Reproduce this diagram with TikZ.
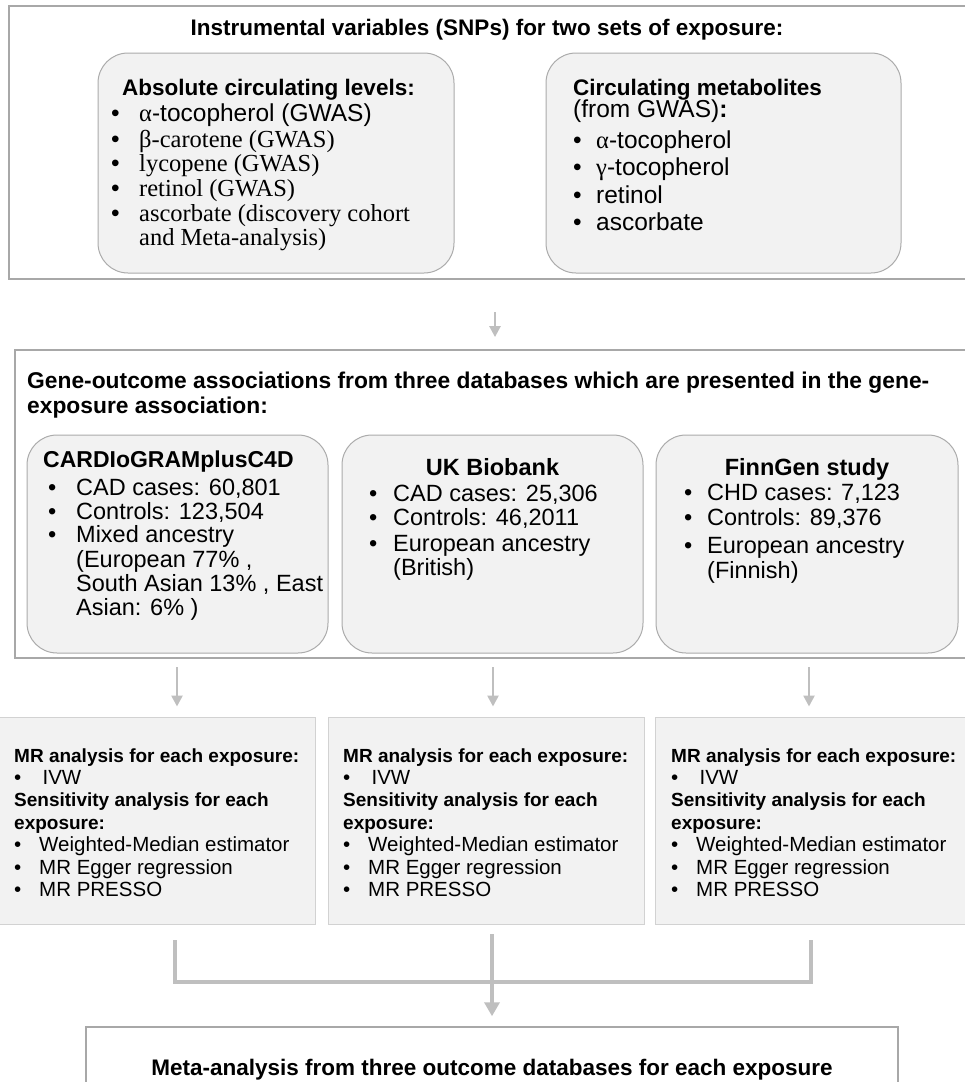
\documentclass[tikz,border=0pt]{standalone}
\usepackage{fontspec}
\setmainfont{Liberation Sans}
\newfontfamily\seriff{Liberation Serif}
\usetikzlibrary{arrows.meta,fit}
\definecolor{boxfill}{HTML}{F2F2F2}
\definecolor{boxline}{HTML}{ABABAB}
\definecolor{outerline}{HTML}{A8A8A8}
\definecolor{arrowc}{HTML}{BFBFBF}
\definecolor{mrline}{HTML}{D2D2D2}
\newcommand\bl[2]{\makebox[#1][l]{\textbullet}#2}
\begin{document}
\begin{tikzpicture}[x=1pt,y=-1pt,
  outer/.style={draw=outerline,line width=1.8pt,inner sep=0pt},
  rbox/.style={draw=boxline,fill=boxfill,line width=1pt,rounded corners=30pt,inner sep=0pt},
  mrbox/.style={draw=mrline,fill=boxfill,line width=1pt,inner sep=0pt},
  txt/.style={inner sep=0pt,anchor=base west,text=black},
  hdT/.style={txt,font=\fontsize{22.5}{27}\selectfont\bfseries},
  bodyT/.style={txt,font=\fontsize{24.5}{28}\selectfont},
  hdG/.style={txt,font=\fontsize{22.8}{27}\selectfont\bfseries},
  hdD/.style={txt,font=\fontsize{23.5}{27}\selectfont\bfseries},
  bodyD/.style={txt,font=\fontsize{23.5}{27}\selectfont},
  hdM/.style={txt,font=\fontsize{19}{23}\selectfont\bfseries},
  bodyM/.style={txt,font=\fontsize{20.5}{24}\selectfont},
  arr/.style={draw=arrowc,line width=2.5pt,-{Triangle[width=11pt,length=11pt]}},
  thickl/.style={draw=arrowc,line width=4pt},
  bigarr/.style={draw=arrowc,line width=4pt,-{Triangle[width=15pt,length=14pt]}}
]
\useasboundingbox (0,0) rectangle (965,1082);

% ---------- top section ----------
\node[outer,fit={(9,6)(975,279)}] (top) {};
\node[rbox,fit={(98,53)(454,273)}] (abs) {};
\node[rbox,fit={(546,53)(901,273)}] (met) {};
\node[hdT,anchor=base] (title) at (487,35) {Instrumental variables (SNPs) for two sets of exposure:};

\node[hdT] (absH) at (122,95) {Absolute circulating levels:};
\node[bodyT] (abs1) at (111,121) {\bl{28pt}{{\seriff α}-tocopherol (GWAS)}};
\node[bodyT] (abs2) at (111,147) {\bl{28pt}{\seriff β-carotene (GWAS)}};
\node[bodyT] (abs3) at (111,171) {\bl{28pt}{\seriff lycopene (GWAS)}};
\node[bodyT] (abs4) at (111,196) {\bl{28pt}{\seriff retinol (GWAS)}};
\node[bodyT] (abs5) at (111,221) {\bl{28pt}{\seriff ascorbate (discovery cohort}};
\node[bodyT] (abs6) at (139,245) {\seriff and Meta-analysis)};

\node[hdT] (metH) at (573,95) {Circulating metabolites};
\node[bodyT] (metH2) at (573,117) {(from GWAS)\textbf{:}};
\node[bodyT] (met1) at (573,148) {\bl{23pt}{{\seriff α}-tocopherol}};
\node[bodyT] (met2) at (573,175) {\bl{23pt}{{\seriff γ}-tocopherol}};
\node[bodyT] (met3) at (573,203) {\bl{23pt}{retinol}};
\node[bodyT] (met4) at (573,230) {\bl{23pt}{ascorbate}};

% ---------- gene-outcome section ----------
\node[outer,fit={(15,350)(975,658)}] (gene) {};
\node[hdG] (geneT1) at (27,388) {Gene-outcome associations from three databases which are presented in the gene-};
\node[hdG] (geneT2) at (27,413) {exposure association:};

\node[rbox,fit={(27,435)(328,653)}] (cardio) {};
\node[rbox,fit={(342,435)(643,653)}] (ukb) {};
\node[rbox,fit={(656,435)(958,653)}] (finn) {};

\node[hdD,font=\fontsize{23}{27}\selectfont\bfseries] (cardioH) at (43,467) {CARDIoGRAMplusC4D};
\node[bodyD] (cardio1) at (48,495) {\bl{28pt}{CAD cases: 60,801}};
\node[bodyD] (cardio2) at (48,519) {\bl{28pt}{Controls: 123,504}};
\node[bodyD] (cardio3) at (48,542) {\bl{28pt}{Mixed ancestry}};
\node[bodyD] (cardio4) at (76,567) {(European 77\% ,};
\node[bodyD] (cardio5) at (76,591) {South Asian 13\% , East};
\node[bodyD] (cardio6) at (76,615) {Asian: 6\% )};

\node[hdD,anchor=base] (ukbH) at (492.5,475) {UK Biobank};
\node[bodyD] (ukb1) at (369,501) {\bl{24pt}{CAD cases: 25,306}};
\node[bodyD] (ukb2) at (369,525) {\bl{24pt}{Controls: 46,2011}};
\node[bodyD] (ukb3) at (369,551) {\bl{24pt}{European ancestry}};
\node[bodyD] (ukb4) at (393,575) {(British)};

\node[hdD,anchor=base] (finnH) at (807,475) {FinnGen study};
\node[bodyD] (finn1) at (684,500) {\bl{23pt}{CHD cases: 7,123}};
\node[bodyD] (finn2) at (684,525) {\bl{23pt}{Controls: 89,376}};
\node[bodyD] (finn3) at (684,553) {\bl{23pt}{European ancestry}};
\node[bodyD] (finn4) at (707,578) {(Finnish)};

% ---------- MR boxes ----------
\node[mrbox,fit={(-5,717)(315,924)}] (mrA) {};
\node[mrbox,fit={(328,717)(644,924)}] (mrB) {};
\node[mrbox,fit={(655,717)(975,924)}] (mrC) {};

\foreach \nm/\x in {mrA/14,mrB/343,mrC/671}{
  \node[hdM] (\nm-1) at (\x,762) {MR analysis for each exposure:};
  \node[bodyM] (\nm-2) at (\x,784) {\bl{25pt}{\,IVW}};
  \node[hdM] (\nm-3) at (\x,806) {Sensitivity analysis for each};
  \node[hdM] (\nm-4) at (\x,829) {exposure:};
  \node[bodyM] (\nm-5) at (\x,851) {\bl{25pt}{Weighted-Median estimator}};
  \node[bodyM] (\nm-6) at (\x,874) {\bl{25pt}{MR Egger regression}};
  \node[bodyM] (\nm-7) at (\x,896) {\bl{25pt}{MR PRESSO}};
}

% ---------- meta box ----------
\node[outer,line width=1.5pt,fit={(86,1027)(898,1095)}] (meta) {};
\node[hdT,anchor=base] (metaT) at (492,1075) {Meta-analysis from three outcome databases for each exposure};

% ---------- connectors ----------
\coordinate (a1) at (495,312);
\draw[arr,shorten >=12pt] (a1) -- (a1 |- gene.north);

\coordinate (a2) at (177,667);
\coordinate (a3) at (493,667);
\coordinate (a4) at (809,667);
\draw[arr,shorten >=10pt] (a2) -- (a2 |- mrA.north);
\draw[arr,shorten >=10pt] (a3) -- (a3 |- mrB.north);
\draw[arr,shorten >=10pt] (a4) -- (a4 |- mrC.north);

\coordinate (jA) at (175,940);
\coordinate (hA) at (175,982);
\coordinate (hC) at (811,982);
\coordinate (jC) at (811,940);
\coordinate (jB) at (492,934);
\draw[thickl] (jA) -- (hA) -- (hC) -- (jC);
\draw[bigarr,shorten >=10pt] (jB) -- (jB |- meta.north);
\end{tikzpicture}
\end{document}
